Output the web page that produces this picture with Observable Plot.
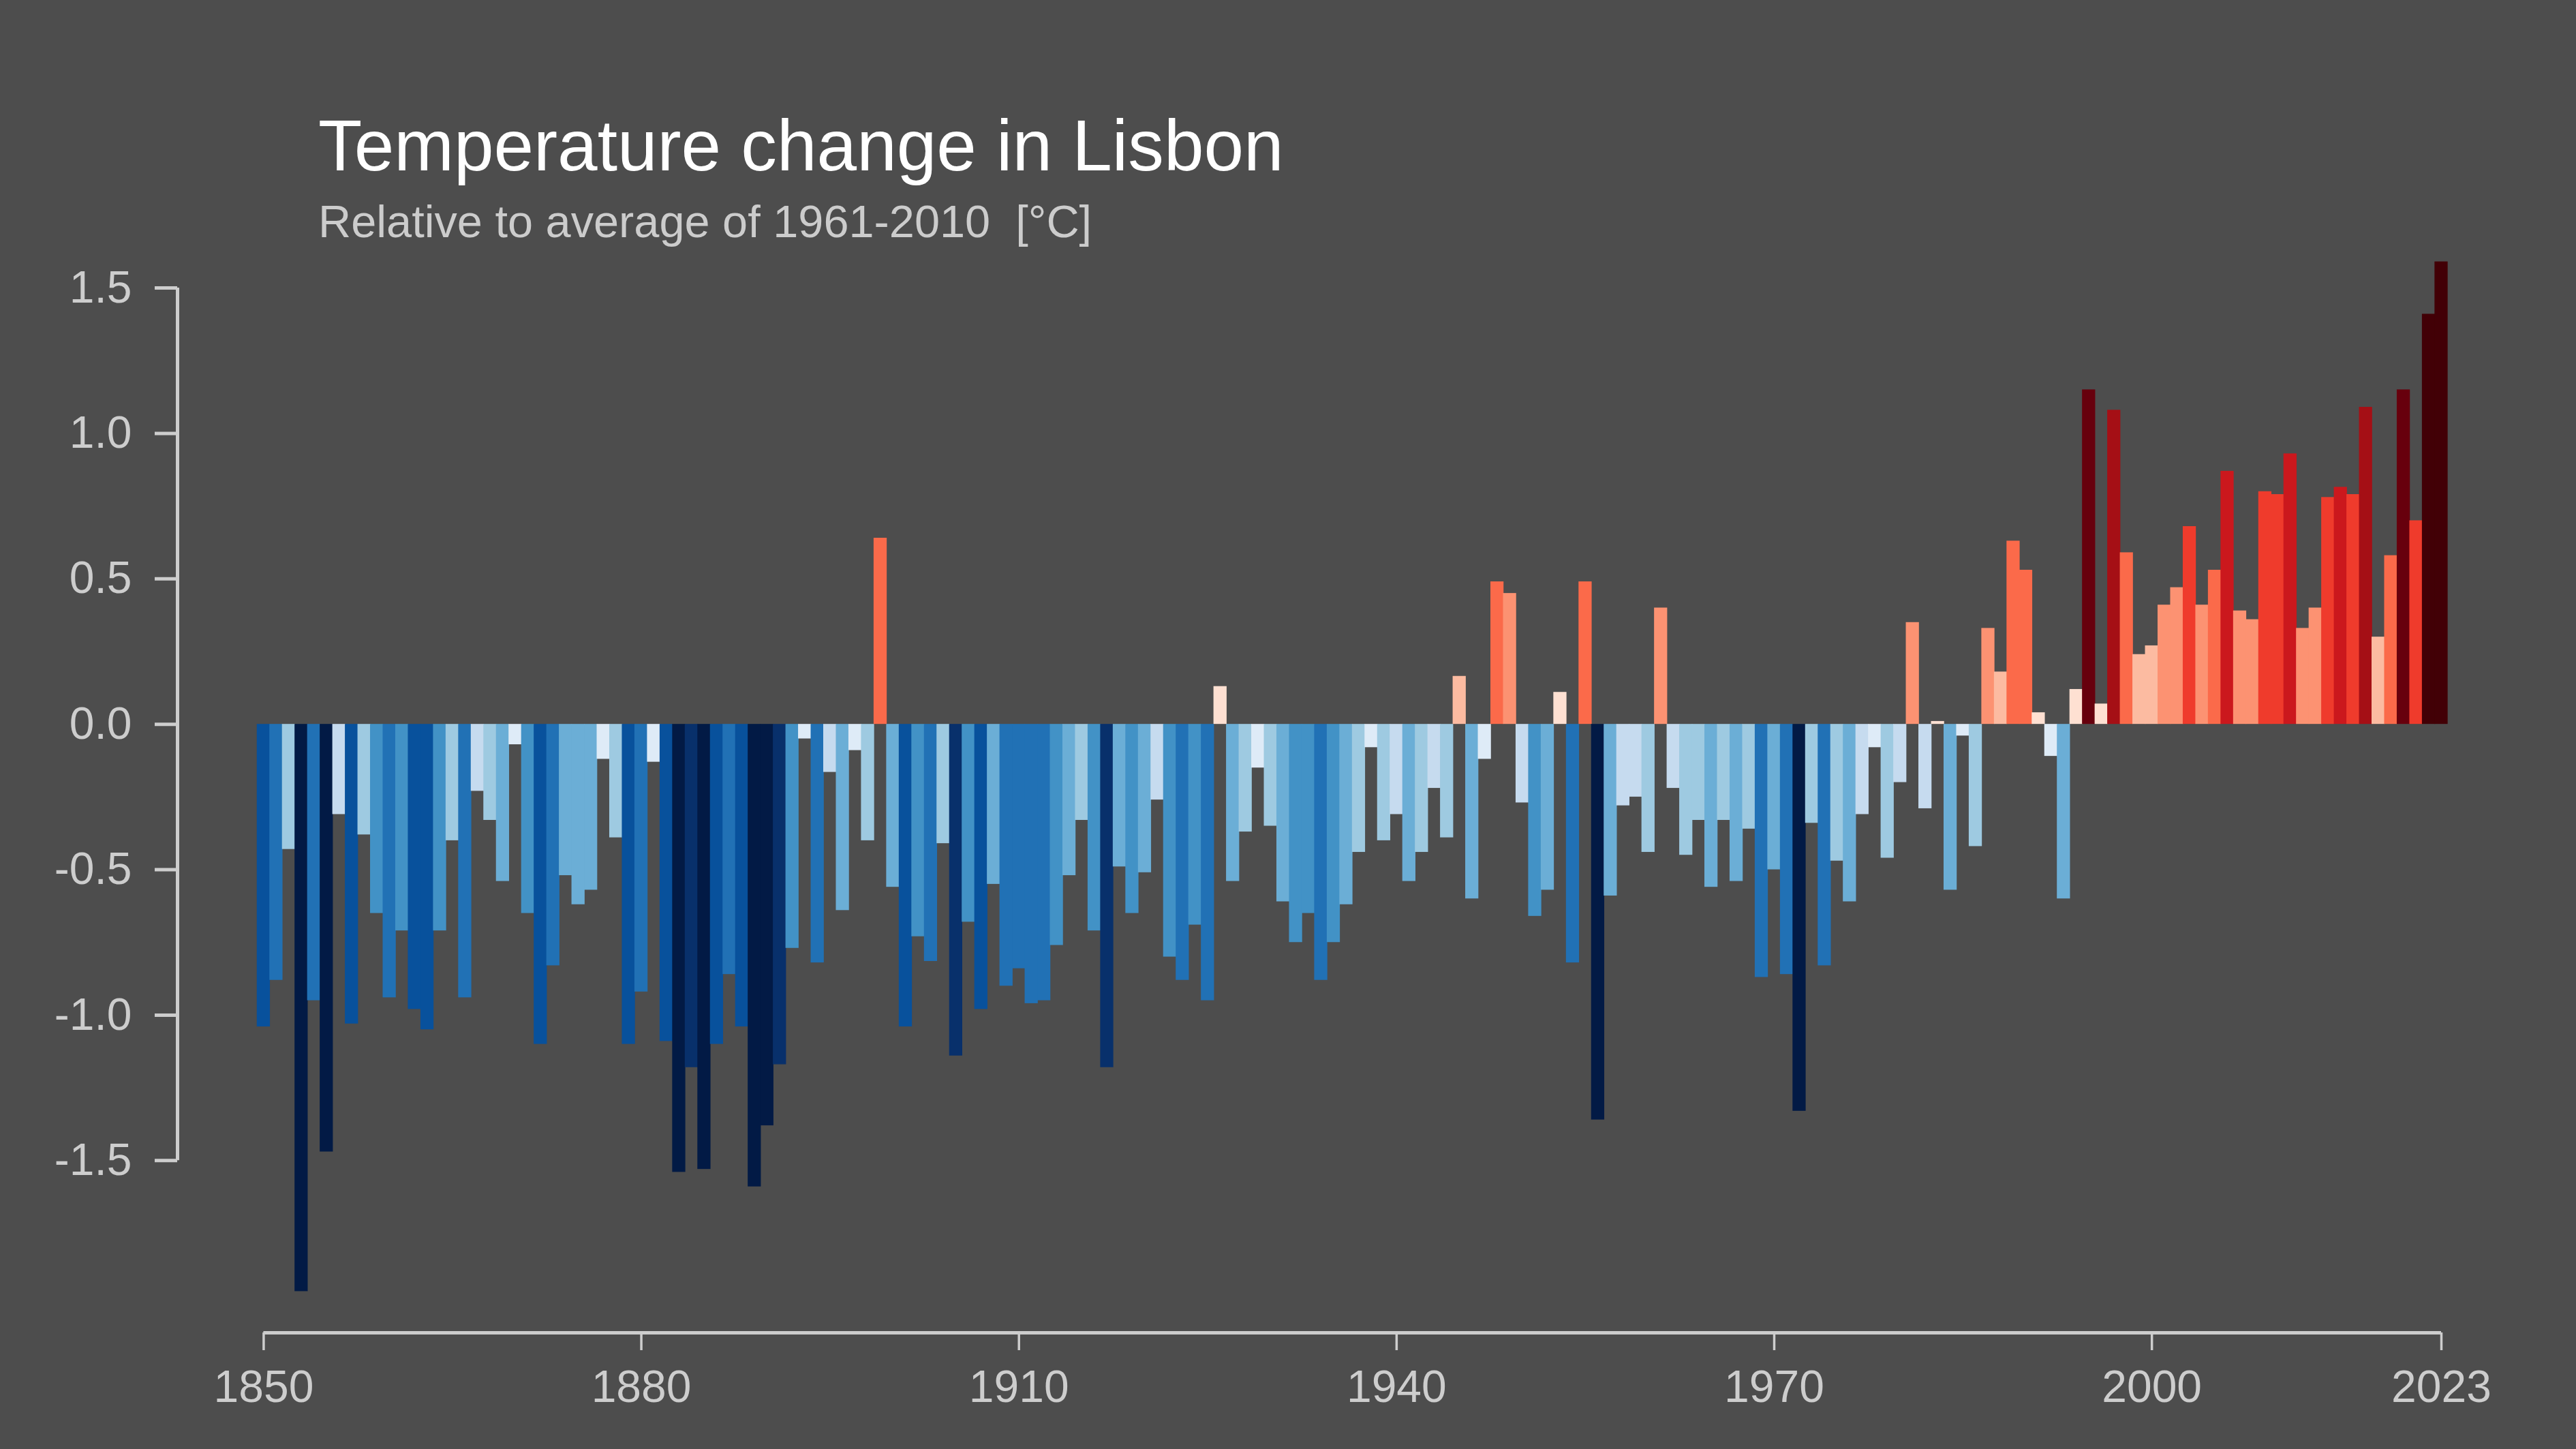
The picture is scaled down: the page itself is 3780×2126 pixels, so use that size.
<!DOCTYPE html>
<html>
<head>
<meta charset="utf-8">
<script src="https://cdn.jsdelivr.net/npm/d3@7"></script>
<script src="https://cdn.jsdelivr.net/npm/@observablehq/plot@0.6"></script>
<style>
  html, body { margin: 0; padding: 0; background: #4d4d4d; }
  body { width: 3780px; height: 2126px; overflow: hidden; font-family: "Liberation Sans", Arial, Helvetica, sans-serif; }
  #header { position: relative; height: 360px; }
  #title { position: absolute; left: 467px; top: 155.4px; font-size: 105.3px; line-height: 117.6px; color: #ffffff; white-space: pre; }
  #subtitle { position: absolute; left: 467px; top: 287.9px; font-size: 66.7px; line-height: 74.5px; color: #cccccc; white-space: pre; }
  #chart svg { display: block; }
</style>
</head>
<body>
<div id="header">
  <div id="title">Temperature change in Lisbon</div>
  <div id="subtitle">Relative to average of 1961-2010  [°C]</div>
</div>
<div id="chart"></div>
<script>
// ---- data (annual temperature anomaly, °C, relative to 1961-2010) ----
const firstYear = 1850;
const anomalies = [
  -1.04, -0.88, -0.43, -1.95, -0.95, -1.47, -0.31, -1.03, -0.38, -0.65, // 1850s
  -0.94, -0.71, -0.98, -1.05, -0.71, -0.40, -0.94, -0.23, -0.33, -0.54, // 1860s
  -0.07, -0.65, -1.10, -0.83, -0.52, -0.62, -0.57, -0.12, -0.39, -1.10, // 1870s
  -0.92, -0.13, -1.09, -1.54, -1.18, -1.53, -1.10, -0.86, -1.04, -1.59, // 1880s
  -1.38, -1.17, -0.77, -0.05, -0.82, -0.165, -0.64, -0.09, -0.40, 0.64, // 1890s
  -0.56, -1.04, -0.73, -0.815, -0.41, -1.14, -0.68, -0.98, -0.55, -0.90, // 1900s
  -0.84, -0.96, -0.95, -0.76, -0.52, -0.33, -0.71, -1.18, -0.49, -0.65, // 1910s
  -0.51, -0.26, -0.80, -0.88, -0.69, -0.95, 0.13, -0.54, -0.37, -0.15,  // 1920s
  -0.35, -0.61, -0.75, -0.65, -0.88, -0.75, -0.62, -0.44, -0.08, -0.40, // 1930s
  -0.31, -0.54, -0.44, -0.22, -0.39, 0.165, -0.60, -0.12, 0.49, 0.45,   // 1940s
  -0.27, -0.66, -0.57, 0.11, -0.82, 0.49, -1.36, -0.59, -0.28, -0.25,   // 1950s
  -0.44, 0.40, -0.22, -0.45, -0.33, -0.56, -0.33, -0.54, -0.36, -0.87,  // 1960s
  -0.50, -0.86, -1.33, -0.34, -0.83, -0.47, -0.61, -0.31, -0.08, -0.46, // 1970s
  -0.20, 0.35, -0.29, 0.01, -0.57, -0.04, -0.42, 0.33, 0.18, 0.63,      // 1980s
  0.53, 0.04, -0.11, -0.60, 0.12, 1.15, 0.07, 1.08, 0.59, 0.24,         // 1990s
  0.27, 0.41, 0.47, 0.68, 0.41, 0.53, 0.87, 0.39, 0.36, 0.80,           // 2000s
  0.79, 0.93, 0.33, 0.40, 0.78, 0.815, 0.79, 1.09, 0.30, 0.58,          // 2010s
  1.15, 0.70, 1.41, 1.59                                                // 2020s
];

const yTicks = [-1.5, -1.0, -0.5, 0.0, 0.5, 1.0, 1.5];
const xTicks = [1850, 1880, 1910, 1940, 1970, 2000, 2023];

// colour classes (stripes palette)
const colorThresholds = [-1.294, -1.133, -0.971, -0.809, -0.647, -0.485, -0.324, -0.162, 0,
                          0.162, 0.324, 0.485, 0.647, 0.809, 0.971, 1.133, 1.294];
const stripeColors = ["#021a45", "#08306b", "#08519c", "#2171b5", "#4292c6", "#6baed6", "#9ecae1", "#c6dbef", "#deebf7",
                      "#fee0d2", "#fcbba1", "#fc9272", "#fb6a4a", "#ef3b2c", "#cb181d", "#a50f15", "#67000d", "#420006"];

// ---- layout ----
const W = 3780, H = 1766;
const axisColor = "#cdcdcd";
const lastYear = firstYear + anomalies.length - 1;
const xAxisAt = 1843.156;   // position of the y-axis line, in year units
const yAxisAt = -2.092;     // position of the x-axis line, in °C units

const data = anomalies.map((v, i) => ({year: firstYear + i, value: v}));

const chart = Plot.plot({
  width: W,
  height: H,
  marginLeft: 260,
  marginRight: 198,
  marginTop: 62,
  marginBottom: 171,
  style: {background: "#4d4d4d", color: axisColor, fontFamily: '"Liberation Sans", Arial, Helvetica, sans-serif'},
  x: {domain: [xAxisAt, lastYear]},
  y: {domain: [yAxisAt, 1.5]},
  color: {type: "threshold", domain: colorThresholds, range: stripeColors},
  marks: [
    Plot.rectY(data, {
      x1: d => d.year - 0.5,
      x2: d => d.year + 0.5,
      y1: 0,
      y2: d => d.value,
      fill: d => d.value,
      insetLeft: -0.4,
      insetRight: -0.4
    }),
    Plot.ruleX([xAxisAt], {y1: yTicks[0], y2: yTicks[yTicks.length - 1], stroke: axisColor, strokeWidth: 5}),
    Plot.ruleY([yAxisAt], {x1: xTicks[0], x2: xTicks[xTicks.length - 1], stroke: axisColor, strokeWidth: 5}),
    Plot.axisY(yTicks, {
      anchor: "left", tickSize: 33, tickPadding: 34, strokeWidth: 5,
      tickFormat: d => d.toFixed(1), fontSize: 66, color: axisColor, label: null
    }),
    Plot.axisX(xTicks, {
      anchor: "bottom", tickSize: 26, tickPadding: 29, strokeWidth: 3.5,
      tickFormat: d => String(d), fontSize: 66, color: axisColor, label: null
    })
  ]
});

document.getElementById("chart").appendChild(chart);
</script>
</body>
</html>
